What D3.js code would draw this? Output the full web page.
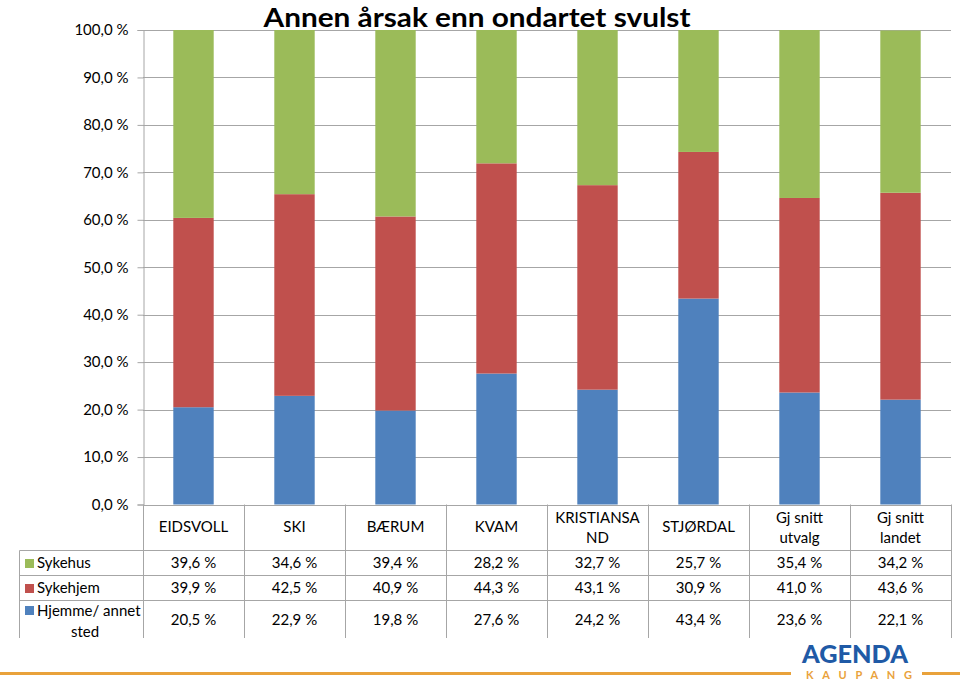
<!DOCTYPE html>
<html><head><meta charset="utf-8">
<script src="https://cdn.jsdelivr.net/npm/d3@7"></script>
<style>
body{margin:0;background:#fff;}
svg{display:block;}
text{font-family:Lato,"Open Sans",sans-serif;fill:#000;}
</style></head>
<body>
<svg id="c" width="960" height="681"></svg>
<script>
const categories = ["EIDSVOLL","SKI","BÆRUM","KVAM","KRISTIANSAND","STJØRDAL","Gj snitt utvalg","Gj snitt landet"];
const categoryLines = [["EIDSVOLL"],["SKI"],["BÆRUM"],["KVAM"],["KRISTIANSA","ND"],["STJØRDAL"],["Gj snitt","utvalg"],["Gj snitt","landet"]];
const sykehus = [39.6,34.6,39.4,28.2,32.7,25.7,35.4,34.2];
const sykehjem = [39.9,42.5,40.9,44.3,43.1,30.9,41.0,43.6];
const hjemme = [20.5,22.9,19.8,27.6,24.2,43.4,23.6,22.1];
const seriesNames = ["Sykehus","Sykehjem","Hjemme/ annet sted"];
const seriesLabelLines = [["Sykehus"],["Sykehjem"],["Hjemme/ annet","sted"]];
const seriesColors = ["#9BBB59","#C0504D","#4F81BD"];
const yTicks = [0,10,20,30,40,50,60,70,80,90,100];
const title = "Annen årsak enn ondartet svulst";

(function(){
const svg = d3.select("#c");
const pLeft = 143, pRight = 951, pTop = 30, pBottom = 504.5;
const FS = 15;
const x = d3.scaleBand().domain(categories).range([pLeft,pRight]).paddingInner(0.6).paddingOuter(0.3);
const xb = d3.scaleBand().domain(categories).range([pLeft,pRight]);
const y = d3.scaleLinear().domain([0,100]).range([pBottom,pTop]);
const fmt = v => d3.format(".1f")(v).replace(".",",") + " %";

// gridlines
svg.append("g").selectAll("line").data(yTicks).join("line")
  .attr("x1",pLeft).attr("x2",pRight).attr("y1",d=>Math.round(y(d))+0.5).attr("y2",d=>Math.round(y(d))+0.5)
  .attr("stroke","#a6a6a6").attr("stroke-width",1);

// y axis
const yAxis = d3.axisLeft(y).tickValues(yTicks).tickFormat(fmt).tickSize(6).tickPadding(8);
const ga = svg.append("g").attr("transform",`translate(${pLeft+0.5},0)`).call(yAxis);
ga.select(".domain").attr("stroke","#a6a6a6");
ga.selectAll(".tick line").attr("stroke","#a6a6a6");
ga.selectAll(".tick text").attr("font-size",FS).attr("font-family","Lato, sans-serif").attr("fill","#000").attr("dx",-1);

// stacked bars
const rows = categories.map((c,i)=>({cat:c, hjemme:hjemme[i], sykehjem:sykehjem[i], sykehus:sykehus[i]}));
const stack = d3.stack().keys(["hjemme","sykehjem","sykehus"])(rows);
const colorByKey = {hjemme:seriesColors[2], sykehjem:seriesColors[1], sykehus:seriesColors[0]};
svg.append("g").selectAll("g").data(stack).join("g").attr("fill",d=>colorByKey[d.key])
  .selectAll("rect").data(d=>d).join("rect")
  .attr("x",d=>x(d.data.cat)).attr("width",x.bandwidth())
  .attr("y",d=>y(Math.min(d[1],100))).attr("height",d=>y(d[0])-y(Math.min(d[1],100)));

// data table
const tableBottom = 638, rowY = [550.5,575.5,600.5], legendLeft = 19.5;
const tg = svg.append("g").attr("stroke","#a6a6a6").attr("stroke-width",1);
xb.domain().forEach((c,i)=>{
  const xx = Math.round(xb(c))+0.5;
  tg.append("line").attr("x1",xx).attr("x2",xx).attr("y1",pBottom).attr("y2",tableBottom);
});
tg.append("line").attr("x1",pRight+0.5).attr("x2",pRight+0.5).attr("y1",pBottom).attr("y2",tableBottom);
tg.append("line").attr("x1",legendLeft).attr("x2",legendLeft).attr("y1",rowY[0]).attr("y2",tableBottom);
rowY.forEach(ry=>tg.append("line").attr("x1",legendLeft).attr("x2",pRight+0.5).attr("y1",ry).attr("y2",ry));

// header labels
const hg = svg.append("g").attr("font-size",FS).attr("text-anchor","middle");
categories.forEach((c,i)=>{
  const cx = xb(c)+xb.bandwidth()/2;
  const lines = categoryLines[i];
  const t = hg.append("text").attr("x",cx).attr("y",lines.length===1?532:523);
  lines.forEach((l,j)=>t.append("tspan").attr("x",cx).attr("dy",j===0?0:20).text(l));
});

// rows
const seriesVals = [sykehus,sykehjem,hjemme];
const rowCenters = [563,588,620];
seriesVals.forEach((vals,si)=>{
  const g = svg.append("g").attr("font-size",FS);
  vals.forEach((v,i)=>{
    g.append("text").attr("x",xb(categories[i])+xb.bandwidth()/2).attr("y",rowCenters[si]+5)
      .attr("text-anchor","middle").text(fmt(v));
  });
  const lines = seriesLabelLines[si];
  g.append("rect").attr("x",25).attr("y",(lines.length===1?rowCenters[si]:rowCenters[si]-10)-4).attr("width",9).attr("height",9).attr("fill",seriesColors[si]);
  if(lines.length===1){
    g.append("text").attr("x",37).attr("y",rowCenters[si]+5).text(lines[0]);
  } else {
    g.append("text").attr("x",37).attr("y",rowCenters[si]-4).text(lines[0]);
    g.append("text").attr("x",85).attr("y",rowCenters[si]+17).attr("text-anchor","middle").text(lines[1]);
  }
});

// title
svg.append("text").attr("x",477).attr("y",27).attr("text-anchor","middle")
  .attr("font-size",26.5).attr("font-weight","bold").attr("font-family","Lato, sans-serif")
  .attr("textLength",427).attr("lengthAdjust","spacingAndGlyphs").text(title);

// footer line & logo
const og = svg.append("g");
og.append("line").attr("x1",0).attr("x2",791).attr("y1",673.5).attr("y2",673.5).attr("stroke","#E9A23B").attr("stroke-width",3);
og.append("line").attr("x1",922).attr("x2",960).attr("y1",673.5).attr("y2",673.5).attr("stroke","#E9A23B").attr("stroke-width",3);
og.append("text").attr("x",855).attr("y",663).attr("text-anchor","middle").attr("font-size",24).attr("font-weight",900)
  .attr("font-family","Lato, sans-serif").style("fill","#1F5AA6").attr("textLength",106).attr("lengthAdjust","spacingAndGlyphs").text("AGENDA");
og.append("text").attr("x",859).attr("y",679).attr("text-anchor","middle").attr("font-size",11).attr("font-weight","bold")
  .attr("font-family","Lato, sans-serif").style("fill","#E9A23B").attr("textLength",106).attr("lengthAdjust","spacing").text("KAUPANG");
})();
</script>
</body></html>
